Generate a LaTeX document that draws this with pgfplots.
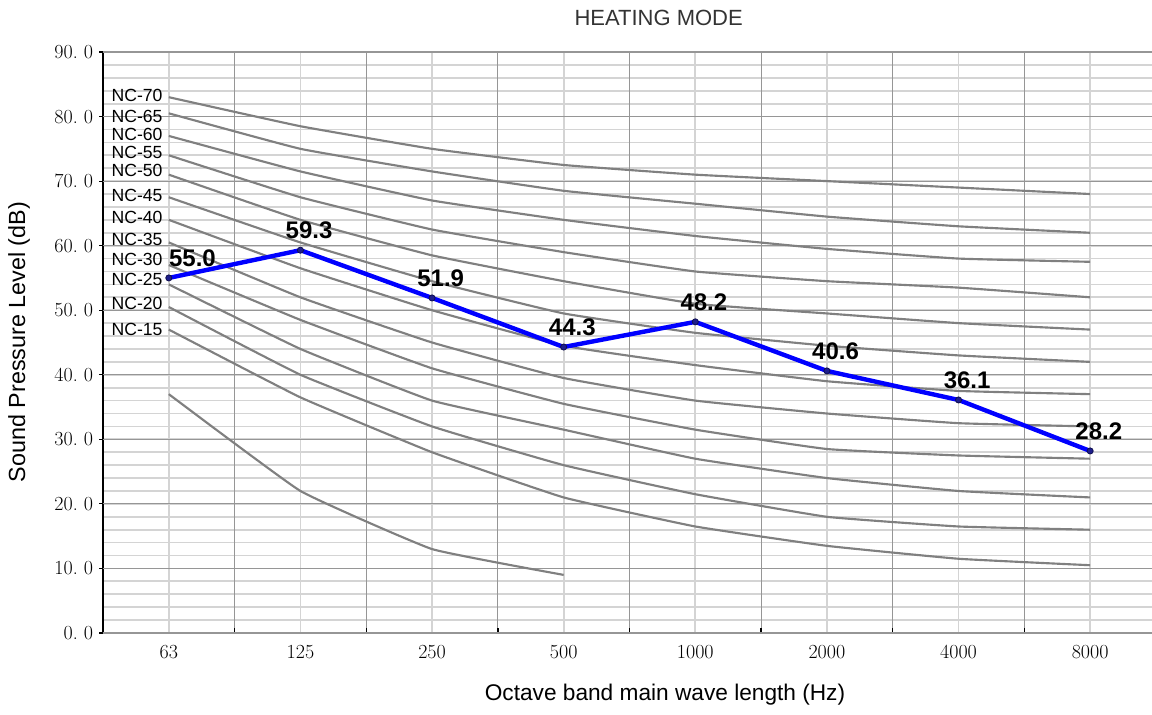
\documentclass[border=0pt]{standalone}
\usepackage{pgfplots}
\pgfplotsset{compat=1.18}
\usepackage{pgfplotstable}
\usepackage{fontspec}
\newfontfamily\arial{Liberation Sans}
\definecolor{ncgray}{RGB}{128,128,128}
\definecolor{lightgrid}{RGB}{212,212,212}
\definecolor{darkgrid}{RGB}{150,150,150}
\definecolor{mkfill}{RGB}{30,30,140}
\definecolor{mkdraw}{RGB}{15,15,80}

% NC curves: x index 0..7 = 63,125,250,500,1000,2000,4000,8000 Hz
\pgfplotstableread{
x  n70  n65  n60  n55  n50  n45  n40  n35  n30  n25  n20  n15
0  83   80.5 77   74   71   67.5 64   60.5 57   54   50.5 47
1  78.5 75   71.5 67.5 64   60.5 56.5 52   48.5 44   40   36.5
2  75   71.5 67   62.5 58.5 54.5 50   45   41   36   32   28
3  72.5 68.5 64   59   54.5 49.5 44.5 39.5 35.5 31.5 26   21
4  71   66.5 61.5 56   51   46.5 41.5 36   31.5 27   21.5 16.5
5  70   64.5 59.5 54.5 49.5 44.5 39   34   28.5 24   18   13.5
6  69   63   58   53.5 48   43   37.5 32.5 27.5 22   16.5 11.5
7  68   62   57.5 52   47   42   37   32   27   21   16   10.5
}\nctable

\pgfplotstableread{
x  y
0  37
1  22
2  13
3  9
}\lowtable

\pgfplotstableread{
x  y
0  55.0
1  59.3
2  51.9
3  44.3
4  48.2
5  40.6
6  36.1
7  28.2
}\heattable

\begin{document}
\begin{tikzpicture}
\useasboundingbox (0,0) rectangle (864pt,535.5pt);
\begin{axis}[
  at={(77.25pt,60.75pt)}, anchor=south west,
  scale only axis, width=786.75pt, height=435.75pt,
  xmin=-0.5, xmax=7.47, ymin=0, ymax=90,
  clip=false,
  axis x line*=bottom, axis y line*=left,
  axis line style={black, line width=1.5pt},
  xtick={0,...,7},
  xticklabels={63,125,250,500,1000,2000,4000,8000},
  ytick={0,2,...,90}, yticklabels={},
  major tick length=0pt,
  grid=major,
  major grid style={color=lightgrid, line width=1.3pt},
  xticklabel style={font=\fontsize{15}{16}\selectfont, yshift=-5.5pt},
  extra x ticks={0.5,1.5,...,6.5}, extra x tick labels={},
  extra x tick style={grid=major, major grid style={color=darkgrid, line width=0.8pt},
     major tick length=4pt, tick align=inside, tick style={black, line width=1pt}},
  extra y ticks={0,10,...,90},
  extra y tick labels={0.\hspace{0.3em}0,10.\hspace{0.3em}0,20.\hspace{0.3em}0,30.\hspace{0.3em}0,40.\hspace{0.3em}0,50.\hspace{0.3em}0,60.\hspace{0.3em}0,70.\hspace{0.3em}0,80.\hspace{0.3em}0,90.\hspace{0.3em}0},
  extra y tick style={grid=major, major grid style={color=darkgrid, line width=0.9pt},
     major tick length=3pt, tick align=outside, tick style={black, line width=0.8pt},
     yticklabel style={font=\fontsize{15}{16}\selectfont, xshift=-1pt}},
]
\foreach \c in {n70,n65,n60,n55,n50,n45,n40,n35,n30,n25,n20,n15}{
  \addplot[ncgray, line width=1.6pt, no marks, smooth, tension=0.2] table[x=x, y=\c] {\nctable};
}
\addplot[ncgray, line width=1.6pt, no marks, smooth, tension=0.2] table[x=x, y=y] {\lowtable};

\addplot[color={rgb,255:red,0;green,0;blue,255}, line width=3.3pt,
  mark=*, mark size=2.3pt, mark options={fill=mkfill, draw=mkdraw, line width=0.6pt}]
  table[x=x, y=y] {\heattable};

% NC labels
\begin{scope}[every node/.style={font=\arial\fontsize{13.2}{14}\selectfont, anchor=east, inner sep=0pt, xshift=-4.5pt}]
\node at (axis cs:0,83.2) {NC-70};
\node at (axis cs:0,80.0) {NC-65};
\node at (axis cs:0,77.2) {NC-60};
\node at (axis cs:0,74.4) {NC-55};
\node at (axis cs:0,71.6) {NC-50};
\node at (axis cs:0,67.8) {NC-45};
\node at (axis cs:0,64.4) {NC-40};
\node at (axis cs:0,61.0) {NC-35};
\node at (axis cs:0,57.8) {NC-30};
\node at (axis cs:0,54.8) {NC-25};
\node at (axis cs:0,51.1) {NC-20};
\node at (axis cs:0,47.1) {NC-15};
\end{scope}

% value labels
\begin{scope}[every node/.style={font=\arial\bfseries\fontsize{18}{19}\selectfont, anchor=south west, inner sep=0pt, yshift=8pt, xshift=-11.25pt}]
\node[xshift=11.25pt] at (axis cs:0,55.0) {55.0};
\node at (axis cs:1,59.3) {59.3};
\node at (axis cs:2,51.9) {51.9};
\node at (axis cs:3,44.3) {44.3};
\node at (axis cs:4,48.2) {48.2};
\node at (axis cs:5,40.6) {40.6};
\node at (axis cs:6,36.1) {36.1};
\node at (axis cs:7,28.2) {28.2};
\end{scope}
\end{axis}

\node[font=\arial\fontsize{16.5}{18}\selectfont, text=black!80] at (494pt,522pt) {HEATING MODE};
\node[font=\arial\fontsize{17}{19}\selectfont] at (498.75pt,14.25pt) {Octave band main wave length (Hz)};
\node[font=\arial\fontsize{17.5}{19}\selectfont, rotate=90] at (14.25pt,279pt) {Sound Pressure Level (dB)};
\end{tikzpicture}
\end{document}
